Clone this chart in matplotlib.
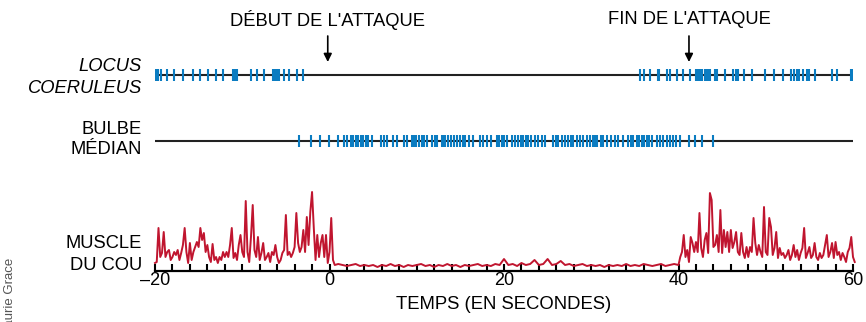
# neuronal firing vs. neck muscle activity during an attack
import numpy as np
import matplotlib
matplotlib.use('Agg')
import matplotlib.pyplot as plt

plt.rcParams['font.family'] = ['Liberation Sans', 'DejaVu Sans']

# spike times (s)
lc_spikes = [-19.9, -19.6, -19.35, -18.65, -17.8, -16.75, -15.7, -14.85, -13.95, -13.0,
             -12.15, -11.1, -10.85, -10.55, -9.0, -8.35, -7.45, -6.5, -6.3, -6.1,
             -5.95, -5.75, -5.2, -4.6, -3.75, -3.0,
             35.6, 36.0, 36.75, 37.6, 37.75, 38.65, 39.05, 39.8, 40.5, 41.3,
             42.0, 42.25, 42.45, 42.75, 43.05, 43.25, 43.4, 43.6, 44.2, 44.45,
             45.3, 46.3, 46.6, 46.85, 47.45, 48.4, 49.9, 50.95, 51.95, 52.95,
             53.25, 53.55, 53.85, 54.3, 54.7, 55.0, 55.65, 57.55, 58.15, 59.8, 59.95]

bulbe_spikes = [-3.5, -2.1, -1.1, -0.05, 0.95, 1.7, 1.95, 2.45, 2.75, 3.05,
                3.3, 3.6, 3.85, 4.2, 4.45, 4.85, 5.9, 6.25, 6.6, 7.25,
                7.7, 8.55, 8.85, 9.4, 9.7, 9.9, 10.3, 10.55, 10.85, 11.2,
                11.7, 12.1, 12.3, 12.85, 13.05, 13.25, 13.6, 13.9, 14.25, 14.6,
                14.95, 15.25, 15.55, 16.0, 16.5, 17.25, 17.6, 18.0, 18.5, 19.15,
                19.45, 19.75, 20.0, 20.3, 20.9, 21.25, 21.65, 21.9, 22.2, 22.5,
                22.8, 23.15, 23.55, 23.95, 24.3, 24.7, 25.6, 25.95, 26.2, 26.6,
                27.0, 27.35, 27.65, 27.95, 28.35, 28.7, 29.1, 29.55, 29.85, 30.25,
                30.45, 30.7, 31.1, 31.4, 31.75, 32.25, 32.7, 33.1, 33.6, 34.25,
                34.5, 34.8, 35.2, 35.5, 35.8, 36.1, 36.35, 36.65, 36.95, 37.5,
                37.9, 38.25, 38.65, 39.05, 39.4, 39.7, 40.15, 41.25, 41.9, 42.65, 43.9]

# neck muscle EMG amplitude (arbitrary units)
emg_pre = [8, 9, 43, 14, 18, 39, 14, 19, 21, 11,
           14, 19, 16, 21, 11, 18, 26, 43, 19, 8,
           28, 11, 19, 24, 29, 24, 43, 31, 38, 19,
           26, 14, 9, 27, 11, 14, 8, 14, 11, 19,
           14, 19, 14, 26, 43, 13, 18, 11, 26, 36,
           19, 14, 70, 19, 9, 34, 66, 21, 14, 34,
           11, 18, 28, 11, 14, 18, 9, 19, 16, 26,
           14, 8, 11, 18, 21, 56, 16, 19, 14, 18,
           24, 58, 28, 19, 24, 41, 19, 54, 26, 59,
           79, 43, 11, 36, 14, 28, 36, 14, 36, 8,
           19, 53, 11, 6]          # from -20 s, every 0.2 s
emg_quiet = [7, 6, 5, 6, 7, 5, 6, 5, 6, 4,
             6, 5, 7, 5, 6, 4, 6, 5, 6, 7,
             5, 6, 4, 6, 5, 7, 5, 6, 4, 6,
             5, 6, 7, 5, 6, 5, 7, 6, 12, 6,
             7, 5, 8, 6, 7, 11, 6, 7, 12, 6,
             7, 10, 6, 7, 5, 6, 7, 5, 6, 5,
             6, 4, 6, 5, 6, 5, 7, 5, 6, 5,
             7, 6, 5, 6, 7, 5, 6, 7]  # from 1 s, every 0.5 s
emg_post = [6, 14, 19, 36, 14, 21, 9, 34, 28, 19,
            29, 19, 58, 23, 14, 31, 38, 18, 78, 71,
            24, 26, 36, 19, 61, 18, 41, 24, 39, 19,
            41, 23, 29, 39, 19, 16, 38, 19, 13, 24,
            14, 24, 19, 53, 28, 16, 26, 19, 14, 64,
            19, 16, 53, 44, 16, 23, 39, 13, 23, 16,
            18, 13, 16, 21, 11, 16, 26, 14, 21, 11,
            18, 23, 43, 13, 18, 24, 13, 16, 28, 14,
            11, 18, 13, 16, 26, 36, 14, 19, 28, 13,
            29, 16, 19, 11, 18, 14, 9, 19, 23, 34,
            14, 9]                  # from 40 s, every 0.2 s

t_pre = -20 + 0.2 * np.arange(len(emg_pre))
t_quiet = 1.0 + 0.5 * np.arange(len(emg_quiet))
t_post = 40 + 0.2 * np.arange(len(emg_post))
emg_t = np.concatenate([t_pre, t_quiet, t_post])
emg_v = np.concatenate([emg_pre, emg_quiet, emg_post])

blue = '#0b7cc1'
red = '#c0152f'
LC_Y, BULBE_Y = 196, 130

fig = plt.figure(figsize=(8.66, 3.22), dpi=100, facecolor='white')
ax = fig.add_axes([155/866, 51/322, 698/866, 271/322])
ax.set_xlim(-20, 60)
ax.set_ylim(0, 271)

# spike rows
ax.hlines([LC_Y, BULBE_Y], -20, 60, color='#222222', lw=1.5, zorder=1)
ax.eventplot([lc_spikes, bulbe_spikes], lineoffsets=[LC_Y, BULBE_Y],
             linelengths=12, linewidths=1.5, colors=blue, zorder=2)

# EMG trace
ax.plot(emg_t, emg_v, color=red, lw=1.4, zorder=2, clip_on=False)

# axes styling
for s in ['top', 'right', 'left']:
    ax.spines[s].set_visible(False)
ax.spines['bottom'].set_linewidth(1.6)
ax.spines['bottom'].set_zorder(3)
ax.set_yticks([])
ax.set_xticks([-20, 0, 20, 40, 60])
ax.set_xticklabels(['\u201320', '0', '20', '40', '60'])
ax.set_xticks(np.arange(-20, 61, 2), minor=True)
ax.tick_params(axis='x', which='both', direction='in', length=5, width=1.5,
               labelsize=13, pad=1)
ax.set_xlabel('TEMPS (EN SECONDES)', fontsize=13.3, labelpad=5)

# attack markers
for t, label in [(-0.2, "DÉBUT DE L'ATTAQUE"), (41.2, "FIN DE L'ATTAQUE")]:
    ax.text(t, 251, label, ha='center', va='center', fontsize=13.2)
    ax.annotate('', xy=(t, 209), xytext=(t, 235),
                arrowprops=dict(arrowstyle='-|>', color='black', lw=1.2,
                                mutation_scale=12, shrinkA=0, shrinkB=0))

# row labels
lx = 142 / 866
for txt, py, st in [('LOCUS', 66, 'italic'), ('COERULEUS', 88, 'italic'),
                    ('BULBE', 129, 'normal'), ('MÉDIAN', 150, 'normal'),
                    ('MUSCLE', 243, 'normal'), ('DU COU', 265, 'normal')]:
    fig.text(lx, 1 - py/322, txt, ha='right', va='center', fontsize=13.2, style=st)

fig.text(10/866, 1 - 258/322, 'Laurie Grace', rotation=90, ha='center', va='top',
         fontsize=9.5, color='#555555')

plt.savefig('out.png', dpi=100)
